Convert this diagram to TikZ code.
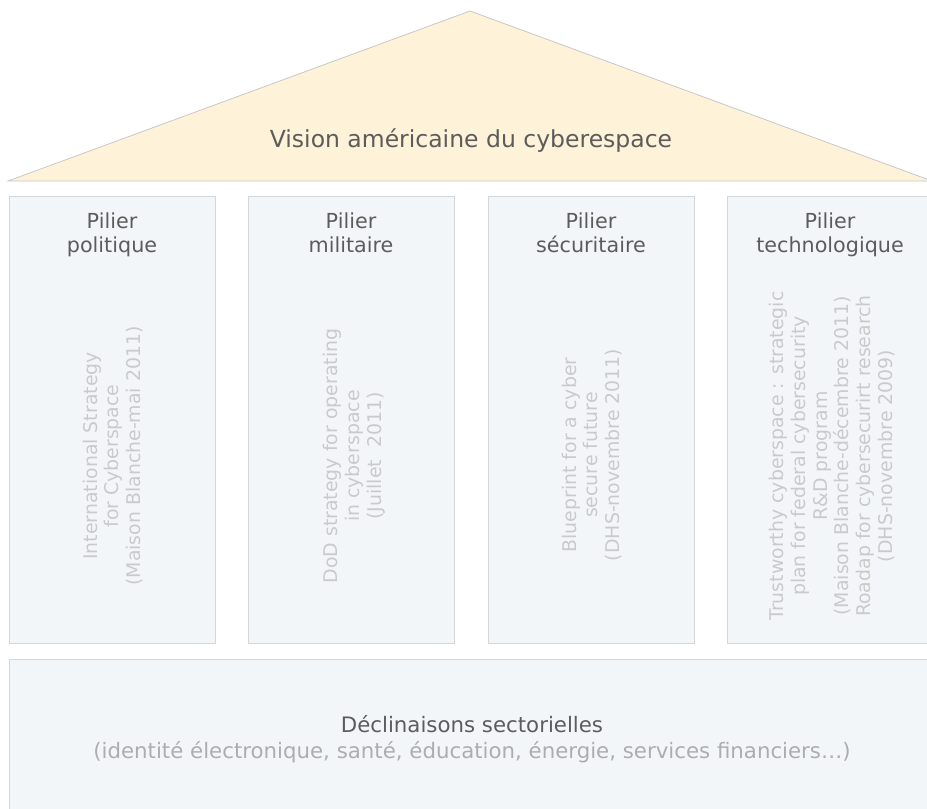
\documentclass[tikz,border=0pt]{standalone}
\usepackage{fontspec}
\setmainfont{DejaVu Sans}
\definecolor{rooffill}{HTML}{FEF2D9}
\definecolor{roofline}{HTML}{C8C8C8}
\definecolor{pillarfill}{HTML}{F3F6F9}
\definecolor{pillarline}{HTML}{D6D6D6}
\definecolor{titlegray}{HTML}{5C5C5C}
\definecolor{docgray}{HTML}{CACACA}
\definecolor{subgray}{HTML}{ADADAD}
\begin{document}
\begin{tikzpicture}[x=1pt,y=-1pt,
  pillarbox/.style={draw=pillarline, fill=pillarfill, line width=0.8pt,
    minimum width=206pt, minimum height=447pt, inner sep=0pt},
  pillartitle/.style={anchor=base, align=center, text=titlegray,
    font=\fontsize{20.7}{24.5}\selectfont, inner sep=0pt},
  doctext/.style={rotate=90, align=center, text=docgray,
    font=\fontsize{18.9}{21.8}\selectfont, inner sep=0pt}]
\useasboundingbox (0,0) rectangle (927,809);
\clip (0,0) rectangle (927,809);

% roof
\draw[draw=roofline, fill=rooffill, line width=0.8pt]
  (8,181) -- (470,11) -- (932,181) -- cycle;
\node[anchor=base, text=titlegray, font=\fontsize{23.5}{28}\selectfont, inner sep=0pt]
  (vision) at (471,147) {Vision américaine du cyberespace};

% pillars
\node[pillarbox] (p1) at (112,419.5) {};
\node[pillarbox] (p2) at (351,419.5) {};
\node[pillarbox] (p3) at (591,419.5) {};
\node[pillarbox] (p4) at (830,419.5) {};

% titles (base anchor sits on the last line)
\node[pillartitle] (t1) at (112,252.5) {Pilier\\politique};
\node[pillartitle] (t2) at (351,252.5) {Pilier\\militaire};
\node[pillartitle] (t3) at (591,252.5) {Pilier\\sécuritaire};
\node[pillartitle] (t4) at (830,252.5) {Pilier\\technologique};

\node[doctext] (d1) at (113,456) {International Strategy\\for Cyberspace\\(Maison Blanche-mai 2011)};
\node[doctext] (d2) at (354,456) {DoD strategy for operating\\in cyberspace\\(Juillet\ \ 2011)};
\node[doctext] (d3) at (592,455) {Blueprint for a cyber\\secure future\\(DHS-novembre 2011)};
\node[doctext] (d4) at (832,456) {Trustworthy cyberspace : strategic\\plan for federal cybersecurity\\R\&D program\\(Maison Blanche-décembre 2011)\\Roadap for cybersecurirt research\\(DHS-novembre 2009)};

% base
\node[draw=pillarline, fill=pillarfill, line width=0.8pt, minimum width=924pt,
  minimum height=170pt, inner sep=0pt] (base) at (471,744) {};
\node[anchor=base, text=titlegray, font=\fontsize{21.3}{24}\selectfont, inner sep=0pt]
  (sect) at (472,732) {Déclinaisons sectorielles};
\node[anchor=base, text=subgray, font=\fontsize{21.3}{24}\selectfont, inner sep=0pt]
  (sectsub) at (472,758) {(identité électronique, santé, éducation, énergie, services financiers…)};
\end{tikzpicture}
\end{document}
